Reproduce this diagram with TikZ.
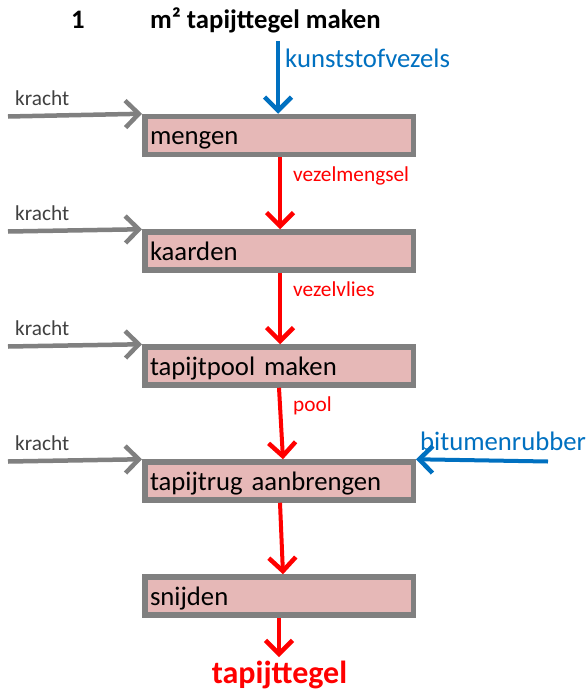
\documentclass[tikz,border=0pt]{standalone}
\usepackage{fontspec}
\setmainfont{Carlito}
\usetikzlibrary{arrows.meta}
\definecolor{boxfill}{HTML}{E6B8B7}
\definecolor{boxline}{HTML}{808080}
\definecolor{flowblue}{HTML}{0070C0}
\definecolor{flowred}{HTML}{FF0000}
\definecolor{labelgray}{HTML}{404040}
\begin{document}
\begin{tikzpicture}[x=1pt,y=-1pt,
  procbox/.style={draw=boxline,line width=5.5pt,fill=boxfill,minimum width=268.5pt,minimum height=38pt,
    text width=258pt,align=left,inner sep=3pt,text height=20pt,text depth=2pt,
    font=\fontsize{26.7}{28}\selectfont,anchor=center},
  tip/.style={-{Straight Barb[length=9pt,width=18pt,line width=4.5pt,scale=1.5]}},
  redflow/.style={tip,draw=flowred,line width=4pt},
  grayflow/.style={tip,draw=boxline,line width=4.5pt},
  blueflow/.style={tip,draw=flowblue,line width=4pt},
  graylbl/.style={text=labelgray,font=\fontsize{21.3}{23}\selectfont,anchor=base west,inner sep=0pt},
  redlbl/.style={text=flowred,font=\fontsize{21.3}{23}\selectfont,anchor=base west,inner sep=0pt},
  bluelbl/.style={text=flowblue,font=\fontsize{26.7}{28}\selectfont,anchor=base west,inner sep=0pt}]
\useasboundingbox (0,0) rectangle (587,693);
% title
\node[font=\bfseries\fontsize{26.7}{28}\selectfont,anchor=base west,inner sep=0pt] (num) at (71,29) {1};
\node[font=\bfseries\fontsize{26.7}{28}\selectfont,anchor=base west,inner sep=0pt] (title) at (150,29) {m² tapijttegel maken};
% boxes
\node[procbox] (b1) at (279,135.5) {mengen};
\node[procbox] (b2) at (279,251) {kaarden};
\node[procbox] (b3) at (279,366) {tapijtpool maken};
\node[procbox] (b4) at (279,481) {tapijtrug aanbrengen};
\node[procbox] (b5) at (279,596) {snijden};
% output label
\node[text=flowred,font=\bfseries\fontsize{32}{34}\selectfont,inner sep=0pt,anchor=base] (out) at (279.5,683) {tapijttegel};
% free ends
\coordinate (kin) at (278,41);
\coordinate (k1) at (8,116.5);
\coordinate (k2) at (8,231.5);
\coordinate (k3) at (8,346.5);
\coordinate (k4) at (8,461.5);
\coordinate (bit) at (548,461.5);
\coordinate (outtip) at (279,657);
% inputs
\draw[blueflow] (kin) -- ([xshift=-1pt]b1.north);
\node[bluelbl] (lkunst) at (285,67.5) {kunststofvezels};
\foreach \i/\b in {k1/b1,k2/b2,k3/b3,k4/b4}{
  \draw[grayflow] (\i) -- (\b.north west);
}
\node[graylbl] (l1) at (15,105) {kracht};
\node[graylbl] (l2) at (15,220) {kracht};
\node[graylbl] (l3) at (15,335) {kracht};
\node[graylbl] (l4) at (15,450) {kracht};
\draw[blueflow] (bit) -- (b4.north east);
\node[bluelbl] (lbit) at (420,450.7) {bitumenrubber};
% main flow
\draw[redflow] ([xshift=1pt]b1.south) -- ([xshift=1pt]b2.north);
\node[redlbl] (lvm) at (293,181) {vezelmengsel};
\draw[redflow] ([xshift=1pt]b2.south) -- ([xshift=1pt]b3.north);
\node[redlbl] (lvv) at (293,296.5) {vezelvlies};
\draw[redflow] ([xshift=0pt]b3.south) -- ([xshift=4pt]b4.north);
\node[redlbl] (lpool) at (293,411.5) {pool};
\draw[redflow] ([xshift=1pt]b4.south) -- ([xshift=4pt]b5.north);
\draw[redflow] ([xshift=0pt]b5.south) -- (outtip);
\end{tikzpicture}
\end{document}
